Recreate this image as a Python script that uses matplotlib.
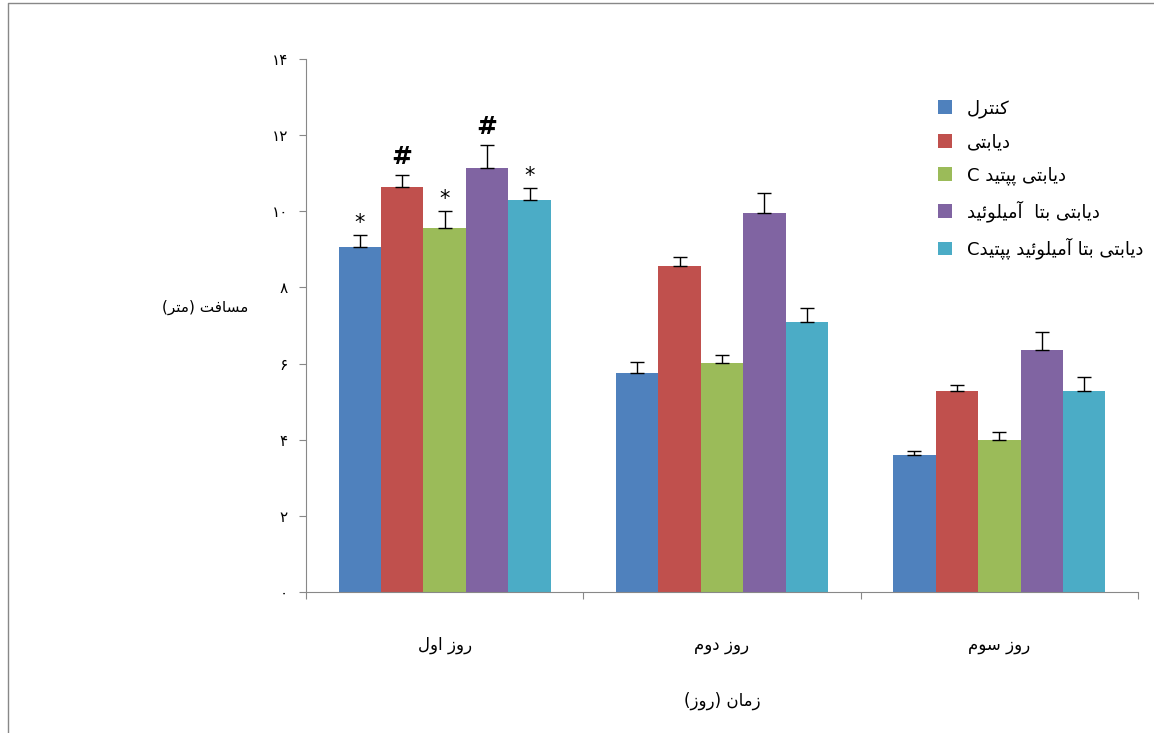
import matplotlib
matplotlib.use("Agg")
import matplotlib.pyplot as plt
import numpy as np

# simple Persian shaping: (isolated, final, initial, medial)
FORMS = {
    'ا': '\uFE8D\uFE8E', 'آ': '\uFE81\uFE82', 'د': '\uFEA9\uFEAA', 'ر': '\uFEAD\uFEAE',
    'ز': '\uFEAF\uFEB0', 'و': '\uFEED\uFEEE',
    'ب': '\uFE8F\uFE90\uFE91\uFE92', 'پ': '\uFB56\uFB57\uFB58\uFB59',
    'ت': '\uFE95\uFE96\uFE97\uFE98', 'س': '\uFEB1\uFEB2\uFEB3\uFEB4',
    'ف': '\uFED1\uFED2\uFED3\uFED4', 'ک': '\uFB8E\uFB8F\uFB90\uFB91',
    'ل': '\uFEDD\uFEDE\uFEDF\uFEE0', 'م': '\uFEE1\uFEE2\uFEE3\uFEE4',
    'ن': '\uFEE5\uFEE6\uFEE7\uFEE8', 'ی': '\uFBFC\uFBFD\uFBFE\uFBFF',
    'ئ': '\uFE89\uFE8A\uFE8B\uFE8C',
}
MIRROR = {'(': ')', ')': '('}


def fa(s):
    out = []
    for i, ch in enumerate(s):
        if ch not in FORMS:
            out.append(MIRROR.get(ch, ch))
            continue
        prev = s[i - 1] if i > 0 else ''
        nxt = s[i + 1] if i + 1 < len(s) else ''
        joins_prev = prev in FORMS and len(FORMS[prev]) == 4
        joins_next = nxt in FORMS and len(FORMS[ch]) == 4
        f = FORMS[ch]
        if joins_prev and joins_next:
            out.append(f[3])
        elif joins_prev:
            out.append(f[1])
        elif joins_next:
            out.append(f[2])
        else:
            out.append(f[0])
    return ''.join(reversed(out))


def fa_num(n):
    return ''.join(chr(0x06F0 + int(d)) for d in str(n))


days = ['روز اول', 'روز دوم', 'روز سوم']
groups = ['کنترل', 'دیابتی', 'دیابتی پپتید C', 'دیابتی بتا  آمیلوئید', 'دیابتی بتا آمیلوئید پپتیدC']
colors = ['#4f81bd', '#c0504d', '#9bbb59', '#8064a2', '#4bacc6']
means = [
    [9.06, 5.75, 3.60],
    [10.64, 8.56, 5.28],
    [9.56, 6.02, 3.99],
    [11.14, 9.96, 6.36],
    [10.30, 7.09, 5.28],
]
errs = [
    [0.32, 0.29, 0.10],
    [0.31, 0.24, 0.16],
    [0.44, 0.21, 0.21],
    [0.60, 0.52, 0.47],
    [0.31, 0.37, 0.37],
]
marks = ['*', '#', '*', '#', '*']  # day one significance marks

plt.rcParams['font.family'] = ['DejaVu Sans']
fig = plt.figure(figsize=(11.54, 7.33), dpi=100)
ax = fig.add_axes([306 / 1154, 1 - 592 / 733, 832 / 1154, 533 / 733])

w = 0.153
x = np.arange(3)
for i in range(5):
    pos = x + (i - 2) * w
    ax.bar(pos, means[i], w, color=colors[i], label=fa(groups[i]),
           yerr=[np.zeros(3), errs[i]], error_kw=dict(ecolor='black', lw=1, capsize=5, capthick=1))
    if marks[i] == '#':
        ax.text(pos[0], means[i][0] + errs[i][0] + 0.15, '#', ha='center', va='bottom',
                fontsize=18, fontweight='bold')
    else:
        ax.text(pos[0], means[i][0] + errs[i][0] + 0.05, '*', ha='center', va='bottom', fontsize=15)

ax.set_xlim(-0.5, 2.5)
ax.set_ylim(0, 14)
ax.set_yticks(range(0, 15, 2))
ax.set_yticklabels([fa_num(v) for v in range(0, 15, 2)], fontsize=11)
ax.set_xticks([-0.5, 0.5, 1.5, 2.5])
ax.set_xticklabels([])
ax.tick_params(axis='x', length=5, color='#888888')
ax.tick_params(axis='y', length=5, color='#888888', pad=8)
for t, d in zip(x, days):
    ax.text(t, -1.4, fa(d), ha='center', va='center', fontsize=12)
ax.text(1, -2.85, fa('زمان (روز)'), ha='center', va='center', fontsize=12)
fig.text(205 / 1154, 1 - 307 / 733, fa('مسافت (متر)'), ha='center', va='center', fontsize=11)
for s in ['top', 'right']:
    ax.spines[s].set_visible(False)
ax.spines['left'].set_color('#888888')
ax.spines['bottom'].set_color('#888888')

ax.legend(loc='upper left', bbox_to_anchor=(0.74, 0.955), frameon=False, fontsize=13,
          handlelength=0.8, handleheight=0.8, labelspacing=0.85, markerfirst=True)

fig.add_artist(plt.Line2D([0.007, 0.007, 1.0], [0.0, 0.996, 0.996], transform=fig.transFigure,
                          color='#888888', lw=1))
fig.savefig('out.png', dpi=100)
